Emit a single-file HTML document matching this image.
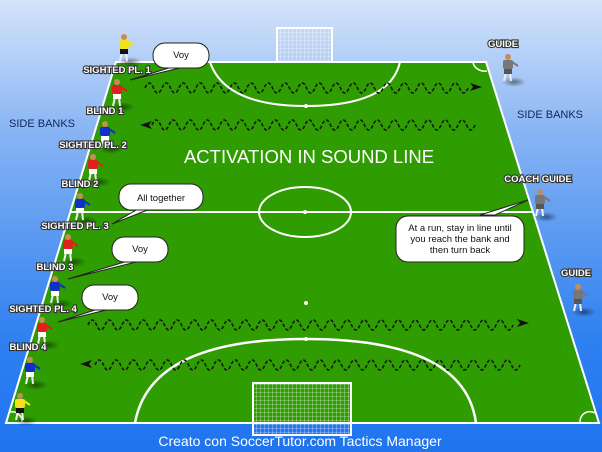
<!DOCTYPE html>
<html><head><meta charset="utf-8"><style>
html,body{margin:0;padding:0;width:602px;height:452px;overflow:hidden}
svg{display:block}
.lbl{font-family:"Liberation Sans",sans-serif;font-weight:bold;font-size:9.5px;fill:#fff;stroke:#333;stroke-width:2.2px;paint-order:stroke;text-anchor:middle}
.sb{font-family:"Liberation Sans",sans-serif;font-size:11px;fill:#10285a}
.bt{font-family:"Liberation Sans",sans-serif;font-size:9.5px;fill:#111;text-anchor:middle}
</style></head><body>
<svg id="s" width="602" height="452" viewBox="0 0 602 452" xmlns="http://www.w3.org/2000/svg">
<defs>
<linearGradient id="bg" x1="0" y1="0" x2="0" y2="1">
<stop offset="0" stop-color="#d4e4fa"/><stop offset="0.3" stop-color="#86b3f4"/><stop offset="0.75" stop-color="#2f80f0"/><stop offset="1" stop-color="#1f74ef"/></linearGradient>
<pattern id="net" width="4" height="4" patternUnits="userSpaceOnUse"><path d="M0 0H4M0 0V4" stroke="#fff" stroke-width="0.6"/></pattern>
<radialGradient id="sh"><stop offset="0" stop-color="#000" stop-opacity=".45"/><stop offset="1" stop-color="#000" stop-opacity="0"/></radialGradient>
</defs>
<rect width="602" height="452" fill="url(#bg)"/>
<rect x="277" y="28" width="55" height="34" fill="url(#net)" stroke="#fff" stroke-width="2"/>
<polygon points="116,62 486,62 599,423 6,423" fill="#2f9c02" stroke="#fff" stroke-width="2"/>
<line x1="70" y1="212" x2="532" y2="212" stroke="#fff" stroke-width="2"/>
<ellipse cx="305" cy="212" rx="46" ry="25" fill="none" stroke="#fff" stroke-width="2"/>
<circle cx="305" cy="212" r="2" fill="#fff"/>
<circle cx="306" cy="106" r="2" fill="#fff"/>
<circle cx="306" cy="303" r="2" fill="#fff"/>
<circle cx="306" cy="339" r="2" fill="#fff"/>
<path d="M210 62 Q225 106 306 106 Q390 106 400 62" fill="none" stroke="#fff" stroke-width="2"/>
<path d="M135 423 Q150 339 306 339 Q465 339 476 423" fill="none" stroke="#fff" stroke-width="2.5"/>
<path d="M473 62 a12 10 0 0 0 14 9" fill="none" stroke="#fff" stroke-width="1.5"/>
<path d="M580 423 a10 10 0 0 1 15 -10" fill="none" stroke="#fff" stroke-width="1.5"/>
<path d="M10 412 a10 10 0 0 1 12 11" fill="none" stroke="#fff" stroke-width="1.5"/>
<rect x="253" y="383" width="98" height="52" fill="url(#net)" stroke="#fff" stroke-width="2"/>
<g id="waves" fill="none" stroke="#111" stroke-width="1.5" stroke-dasharray="3.5,2"></g>
<g id="arrows" fill="#111"></g>
<text x="309" y="163" font-family="Liberation Sans,sans-serif" font-size="18.5" fill="#fff" text-anchor="middle">ACTIVATION IN SOUND LINE</text>
<g id="players"></g>
<text class="lbl" x="117" y="73">SIGHTED PL. 1</text>
<text class="lbl" x="105" y="114">BLIND 1</text>
<text class="lbl" x="93" y="148">SIGHTED PL. 2</text>
<text class="lbl" x="80" y="187">BLIND 2</text>
<text class="lbl" x="75" y="229">SIGHTED PL. 3</text>
<text class="lbl" x="55" y="270">BLIND 3</text>
<text class="lbl" x="43" y="312">SIGHTED PL. 4</text>
<text class="lbl" x="28" y="350">BLIND 4</text>
<text class="lbl" x="503" y="47">GUIDE</text>
<text class="lbl" x="538" y="182">COACH GUIDE</text>
<text class="lbl" x="576" y="276">GUIDE</text>
<text class="sb" x="9" y="127">SIDE BANKS</text>
<text class="sb" x="517" y="118">SIDE BANKS</text>
<g stroke="#222" stroke-width="1" fill="#fff">
<path d="M130 80 L172 67 L184 67 Z"/>
<rect x="153" y="43" width="56" height="25" rx="12"/>
<path d="M112 224 L138 209 L150 209 Z"/>
<rect x="119" y="184" width="84" height="26" rx="12"/>
<path d="M68 279 L128 261 L140 261 Z"/>
<rect x="112" y="237" width="56" height="25" rx="12"/>
<path d="M58 322 L98 309 L110 309 Z"/>
<rect x="82" y="285" width="56" height="25" rx="12"/>
<path d="M528 200 L480 215 L495 215 Z"/>
<rect x="396" y="216" width="128" height="46" rx="12"/>
</g>
<text class="bt" x="181" y="58">Voy</text>
<text class="bt" x="161" y="201">All together</text>
<text class="bt" x="140" y="252">Voy</text>
<text class="bt" x="110" y="300">Voy</text>
<text class="bt" x="460" y="231">At a run, stay in line until</text>
<text class="bt" x="460" y="242">you reach the bank and</text>
<text class="bt" x="460" y="253">then turn back</text>
<text x="300" y="446" font-family="Liberation Sans,sans-serif" font-size="14" fill="#fff" text-anchor="middle">Creato con SoccerTutor.com Tactics Manager</text>
</svg>
<script>
var NS="http://www.w3.org/2000/svg";
function wave(x1,x2,y,amp,per){var d="M"+x1+" "+y;for(var x=x1;x+per<=x2+1;x+=per){d+=" q"+(per/4)+" "+(-amp*2)+" "+(per/2)+" 0 q"+(per/4)+" "+(amp*2)+" "+(per/2)+" 0";}
var p=document.createElementNS(NS,"path");p.setAttribute("d",d);document.getElementById("waves").appendChild(p);}
wave(145,468,88,5,17);wave(152,482,125,5,17);wave(88,515,325,5,17);wave(95,532,365,5,17);
function arrow(x,y,dir){var p=document.createElementNS(NS,"path");var d=dir>0?"M"+x+" "+y+" l-12 -4 l3 4 l-3 4z":"M"+x+" "+y+" l12 -4 l-3 4 l3 4z";p.setAttribute("d",d);document.getElementById("arrows").appendChild(p);}
arrow(482,87,1);arrow(140,125,-1);arrow(529,323,1);arrow(80,364,-1);
var cols={y:["#f2e21a","#111"],r:["#e0201a","#fff"],b:["#1030c8","#fff"],g:["#777","#555"]};
function pl(x,y,c){var g=document.getElementById("players");var s=cols[c];
g.insertAdjacentHTML("beforeend",
'<ellipse cx="'+(x+6)+'" cy="'+(y+27)+'" rx="12" ry="5" fill="url(#sh)"/>'+
'<line x1="'+(x-2)+'" y1="'+(y+17)+'" x2="'+(x-4)+'" y2="'+(y+26)+'" stroke="#eee" stroke-width="2"/>'+
'<line x1="'+(x+2)+'" y1="'+(y+17)+'" x2="'+(x+3)+'" y2="'+(y+26)+'" stroke="#eee" stroke-width="2"/>'+
'<rect x="'+(x-4)+'" y="'+(y+13)+'" width="8" height="6" fill="'+s[1]+'"/>'+
'<rect x="'+(x-5)+'" y="'+(y+5)+'" width="10" height="9" rx="2" fill="'+s[0]+'"/>'+
'<line x1="'+(x+4)+'" y1="'+(y+7)+'" x2="'+(x+10)+'" y2="'+(y+11)+'" stroke="'+s[0]+'" stroke-width="2"/>'+
'<circle cx="'+x+'" cy="'+(y+2)+'" r="3" fill="#c98a5a"/>');}
pl(124,35,"y");pl(117,80,"r");pl(105,122,"b");pl(93,155,"r");pl(80,194,"b");pl(68,235,"r");pl(55,277,"b");pl(42,318,"r");pl(30,358,"b");pl(20,394,"y");
pl(508,55,"g");pl(540,190,"g");pl(578,285,"g");
</script>
</body></html>
